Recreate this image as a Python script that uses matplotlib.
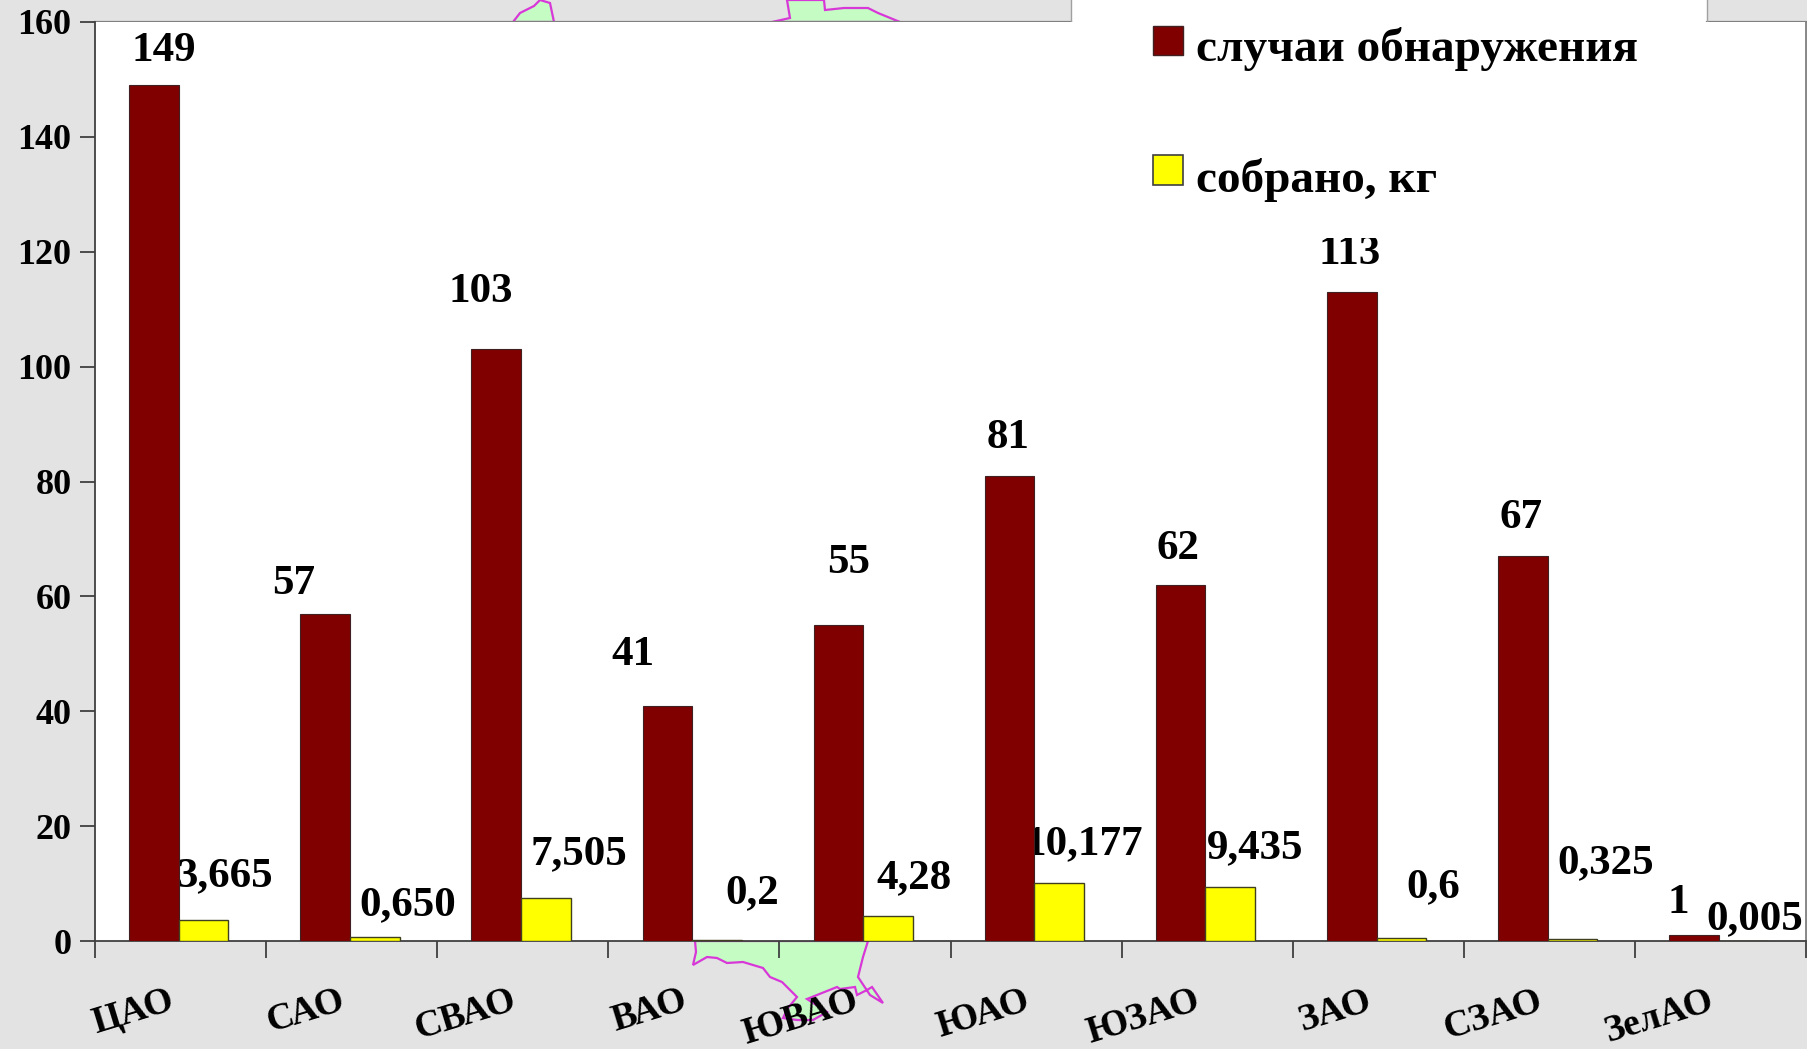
import matplotlib.pyplot as plt
from matplotlib.patches import Polygon, Rectangle
from matplotlib.transforms import Bbox
import numpy as np

W, H = 1808, 1049

okruga = ['ЦАО', 'САО', 'СВАО', 'ВАО', 'ЮВАО', 'ЮАО', 'ЮЗАО', 'ЗАО', 'СЗАО', 'ЗелАО']
cases = [149, 57, 103, 41, 55, 81, 62, 113, 67, 1]
collected = [3.665, 0.650, 7.505, 0.2, 4.28, 10.177, 9.435, 0.6, 0.325, 0.005]
cases_labels = ['149', '57', '103', '41', '55', '81', '62', '113', '67', '1']
collected_labels = ['3,665', '0,650', '7,505', '0,2', '4,28', '10,177', '9,435', '0,6', '0,325', '0,005']

# сдвиг подписей от вершины столбца, в пикселях
cases_dx = [10, -32, -15, -34, 10, -1, -3, -2, -2, -16]
cases_dy = [34, 30, 57, 51, 62, 38, 36, 38, 38, 32]
collected_dx = [21, 33, 33, 35, 26, 25, 25, 32, 33, 11]
collected_dy = [44, 32, 44, 47, 38, 38, 39, 50, 76, 22]

# контуры карты за диаграммой, в пикселях
map_top_left = [(513, 22), (520, 13), (534, 6), (540, 0), (550, 3), (554, 22)]
map_top_mid = [(772, 22), (790, 18), (787, 0), (824, 0), (825, 10), (844, 8),
               (868, 8), (878, 13), (900, 22)]
map_bottom = [(695, 941), (696, 952), (693, 965), (707, 957), (717, 958), (727, 963),
              (743, 962), (763, 968), (770, 977), (782, 982), (797, 997), (788, 1008),
              (783, 1018), (797, 1020), (813, 1020), (827, 1012), (807, 999), (837, 987),
              (840, 989), (855, 987), (857, 995), (867, 990), (872, 987), (883, 1003),
              (870, 995), (858, 977), (863, 957), (868, 941)]

plt.rcParams['font.family'] = ['Liberation Serif', 'DejaVu Serif']
plt.rcParams['font.weight'] = 'bold'

fig = plt.figure(figsize=(W / 100, H / 100), dpi=100, facecolor='#e3e3e3')

# задний слой: карта и белое поле под легендой
back = fig.add_axes([0, 0, 1, 1], zorder=0)
back.set_xlim(0, W)
back.set_ylim(H, 0)
back.axis('off')
for outline in (map_top_left, map_top_mid, map_bottom):
    back.add_patch(Polygon(outline, closed=True, facecolor='#c4fcc4', edgecolor='#d838d8', lw=1.6))
back.add_patch(Rectangle((1071, 0), 636, 23, facecolor='white', edgecolor='none', zorder=3))
back.plot([95, 1071], [22, 22], color='#808080', lw=1.6, zorder=4)
back.plot([1707, 1806], [22, 22], color='#808080', lw=1.6, zorder=4)
back.plot([1071, 1071], [0, 22], color='#a0a0a0', lw=1, zorder=4)
back.plot([1707, 1707], [0, 22], color='#a0a0a0', lw=1, zorder=4)

# диаграмма
left, right, top, bottom = 95, 1806, 22, 941
ax = fig.add_axes([left / W, 1 - bottom / H, (right - left) / W, (bottom - top) / H], zorder=1)
ax.set_xlim(0, 10)
ax.set_ylim(0, 160)
ax.spines['top'].set_visible(False)
ax.spines['right'].set_color('#808080')
ax.spines['left'].set_color('#404040')
ax.spines['bottom'].set_color('#404040')
for s in ('left', 'bottom', 'right'):
    ax.spines[s].set_linewidth(1.3)

x = np.arange(len(okruga))
bar_w = 0.29
red_x = x + 0.2 + bar_w / 2
yellow_x = x + 0.2 + bar_w * 1.5
ax.bar(red_x, cases, bar_w, color='#800000', edgecolor='#402020', lw=0.8, zorder=3)
ax.bar(yellow_x, collected, bar_w, color='#ffff00', edgecolor='#404020', lw=1, zorder=3)

ax.set_yticks(np.arange(0, 161, 20))
ax.set_xticks(np.arange(0, 11))
ax.set_xticklabels([])
ax.tick_params(axis='y', length=11, width=1.3, color='#404040', labelsize=26, pad=6)
ax.tick_params(axis='x', length=12, width=1.3, color='#404040')

for i in range(len(okruga)):
    t = ax.annotate(cases_labels[i], (red_x[i], cases[i]), xytext=(cases_dx[i], cases_dy[i]),
                    textcoords='offset pixels', ha='center', va='center', fontsize=31, zorder=1)
    if cases_labels[i] == '113':
        # верх этой подписи срезан
        t.set_clip_box(Bbox([[0, 0], [W, H - 238]]))
        t.set_clip_on(True)
    ax.annotate(collected_labels[i], (yellow_x[i], collected[i]), xytext=(collected_dx[i], collected_dy[i]),
                textcoords='offset pixels', ha='center', va='center', fontsize=31, zorder=1)
    # подписи округов наклонены, правый край у середины группы
    ax.annotate(okruga[i], (x[i] + 0.5, 0), xytext=(-5, -68), textcoords='offset pixels',
                ha='right', va='baseline', rotation=17, rotation_mode='anchor', fontsize=27,
                annotation_clip=False)

# легенда
over = fig.add_axes([0, 0, 1, 1], zorder=2)
over.set_xlim(0, W)
over.set_ylim(H, 0)
over.axis('off')
over.add_patch(Rectangle((1153, 26), 30, 29, facecolor='#800000', edgecolor='#402020', lw=1))
over.add_patch(Rectangle((1153, 155), 30, 30, facecolor='#ffff00', edgecolor='#404040', lw=1.2))
over.text(1196, 61, 'случаи обнаружения', fontsize=34, va='baseline', ha='left')
over.text(1196, 192, 'собрано, кг', fontsize=34, va='baseline', ha='left')

fig.savefig('out.png', dpi=100, facecolor=fig.get_facecolor())
